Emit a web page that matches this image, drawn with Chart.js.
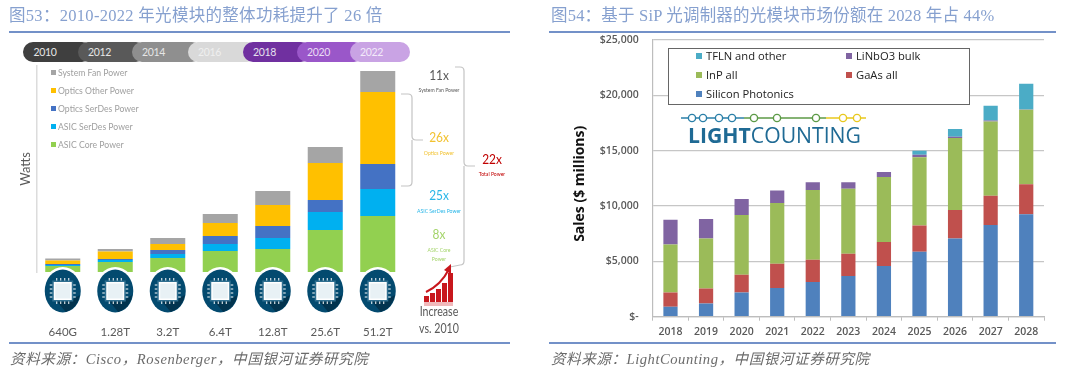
<!DOCTYPE html>
<html><head><meta charset="utf-8">
<script src="https://cdn.jsdelivr.net/npm/chart.js@4"></script>
<style>
html,body{margin:0;padding:0;background:#fff;width:1080px;height:379px;overflow:hidden}
.a{position:absolute;white-space:pre}
canvas{position:absolute}
#wrap{position:absolute;left:0;top:0;width:1080px;height:379px;filter:blur(.4px)}
.ttl{font:16.5px "Liberation Serif","Noto Sans CJK SC";color:#86a0cf;line-height:20px}
.src{font:italic 14.6px "Liberation Serif","Noto Sans CJK SC";color:#6b6b6b;line-height:18px}
.rule{position:absolute;height:2px;background:#7391c8}
.c{transform:translateX(-50%) scaleX(.85);text-align:center}
</style></head><body>
<div id="wrap">
<canvas id="left" width="540" height="379" style="left:0;top:0;width:540px;height:379px"></canvas>
<canvas id="right" width="540" height="379" style="left:540px;top:0;width:540px;height:379px"></canvas>
<svg id="ov" class="a" width="1080" height="379" style="left:0;top:0"></svg>
<div id="html"></div>
</div>
<script>
// LEFT CHART DATA
const switchCats=['640G','1.28T','3.2T','6.4T','12.8T','25.6T','51.2T'];
const asicCore=[6,10,14,21,23,42,56];
const asicSerdes=[1,2,4,7,11,18,27];
const opticsSerdes=[1,1,4,8,12,12,25];
const opticsOther=[3.5,7.5,6,13,21,37,72];
const systemFan=[2,2.5,6,9,14,16,21];
const leftSeries=['ASIC Core Power','ASIC SerDes Power','Optics SerDes Power','Optics Other Power','System Fan Power'];
const leftColors=['#92d050','#00b0f0','#4472c4','#ffc000','#a5a5a5'];
const yearLabels=['2010','2012','2014','2016','2018','2020','2022'];
const yearColors=['#3f3f3f','#595959','#8f8f8f','#d9d9d9','#7030a0','#9a57c9','#c9a3e4'];
const yearText=['#e6e6e6','#e6e6e6','#e6e6e6','#efefef','#e6e0ee','#eadcf5','#f3eafa'];
const yearStarts=[23,78,132,188,243,297,350];
// RIGHT CHART DATA
const years=['2018','2019','2020','2021','2022','2023','2024','2025','2026','2027','2028'];
const siliconPhotonics=[900,1200,2190,2600,3140,3680,4580,5870,7070,8290,9250];
const gaasAll=[1290,1345,1610,2190,2010,2010,2160,2360,2570,2640,2710];
const inpAll=[4340,4520,5390,5480,6300,5860,5890,6170,6500,6710,6730];
const linbo3Bulk=[2240,1765,1440,1130,690,600,450,240,120,90,30];
const tflnOther=[0,0,0,0,0,0,0,360,690,1330,2320];
const rightColors=['#4f81bd','#c0504d','#9bbb59','#8064a2','#4bacc6'];

Chart.defaults.animation=false;
Chart.defaults.responsive=false;

const html=document.getElementById('html');
function add(cls,text,x,y,style){const d=document.createElement('div');d.className='a '+cls;d.textContent=text;d.style.left=x+'px';d.style.top=y+'px';if(style)Object.assign(d.style,style);html.appendChild(d);return d;}

// chip icons under each bar, positioned from the category scale
const chipPlugin={id:'chips',afterDatasetsDraw(ch){
  const c=ch.ctx,xs=ch.scales.x;
  switchCats.forEach((_,i)=>{
    const x=xs.getPixelForValue(i),y=291;
    c.save();
    c.fillStyle='#fff';c.beginPath();c.ellipse(x,y-1,20,23,0,0,Math.PI*2);c.fill();
    c.fillStyle='#034a6f';c.beginPath();c.ellipse(x,y,18,21.5,0,0,Math.PI*2);c.fill();
    c.fillStyle='#02344f';c.beginPath();c.moveTo(x+9,y+9);c.lineTo(x+17,y+4);c.quadraticCurveTo(x+15,y+17,x+3,y+21);c.lineTo(x-7,y+9);c.closePath();c.fill();
    c.strokeStyle='#fff';c.lineWidth=1;
    for(let k=-6;k<=6;k+=4){
      c.beginPath();c.moveTo(x+k,y-13);c.lineTo(x+k,y+13);c.stroke();
      c.beginPath();c.moveTo(x-13,y+k);c.lineTo(x+13,y+k);c.stroke();
    }
    c.fillStyle='#2f6f90';c.fillRect(x-10.5,y-10.5,21,21);
    c.fillStyle='#fff';c.fillRect(x-9,y-9,18,18);
    c.fillStyle='#e8f1f5';c.fillRect(x-7.5,y-7.5,15,15);
    c.restore();
  });
}};

new Chart(document.getElementById('left'),{
  type:'bar',
  data:{labels:switchCats,datasets:[asicCore,asicSerdes,opticsSerdes,opticsOther,systemFan].map((d,i)=>({label:leftSeries[i],data:d,backgroundColor:leftColors[i],barPercentage:.667,categoryPercentage:1}))},
  options:{
    layout:{padding:{left:18,right:136,top:66,bottom:0}},
    plugins:{legend:{display:false},tooltip:{enabled:false}},
    scales:{
      x:{stacked:true,grid:{display:false},border:{display:false},
        ticks:{padding:45,color:'#595959',font:{family:'Lato',size:11.5},maxRotation:0},
        afterFit(s){s.height=107}},
      y:{stacked:true,min:0,max:206,
        grid:{display:false},border:{display:true,color:'#dcdcdc',width:1.5},
        ticks:{display:false},
        title:{display:true,text:'Watts',color:'#595959',font:{family:'Lato',size:13},padding:0},
        afterFit(s){s.width=18.5}}
    }
  },
  plugins:[chipPlugin]
});

new Chart(document.getElementById('right'),{
  type:'bar',
  data:{labels:years,datasets:[siliconPhotonics,gaasAll,inpAll,linbo3Bulk,tflnOther].map((d,i)=>({label:['Silicon Photonics','GaAs all','InP all','LiNbO3 bulk','TFLN and other'][i],data:d,backgroundColor:rightColors[i],barPercentage:.4,categoryPercentage:1}))},
  options:{
    layout:{padding:{left:32,right:36,top:40,bottom:0}},
    plugins:{legend:{display:false},tooltip:{enabled:false}},
    scales:{
      x:{stacked:true,grid:{offset:true,drawOnChartArea:false,tickLength:4,color:'#bdbdbd'},border:{color:'#bdbdbd',width:1.2},
        ticks:{padding:5,color:'#595959',font:{family:'Open Sans',size:10.5,weight:'600'},maxRotation:0},
        afterFit(s){s.height=62.3}},
      y:{stacked:true,min:0,max:25000,
        grid:{color:'#c6c6c6',lineWidth:1.3,drawTicks:false},border:{color:'#bdbdbd',width:1.2},
        ticks:{stepSize:5000,padding:14,color:'#595959',font:{family:'Open Sans',size:10.5,weight:'600'},
          callback:v=>v===0?'$-':'$'+v.toLocaleString('en-US')},
        title:{display:true,text:'Sales ($ millions)   ',color:'#111',font:{family:'Open Sans',size:14,weight:'700'},padding:0},
        afterFit(s){s.width=80.7}}
    }
  }
});

// Page titles, rules, sources
add('ttl','图53：2010-2022 年光模块的整体功耗提升了 26 倍',9,6,{letterSpacing:'.3px'});
add('ttl','图54：基于 SiP 光调制器的光模块市场份额在 2028 年占 44%',551,6,{letterSpacing:'.2px'});
[[9,501,31],[549,507,31],[9,501,342],[549,507,342]].forEach(r=>{const d=document.createElement('div');d.className='rule';d.style.cssText=`left:${r[0]}px;width:${r[1]}px;top:${r[2]}px`;html.appendChild(d);});
add('src','资料来源：Cisco，Rosenberger，中国银河证券研究院',10,350,{letterSpacing:'.55px'});
add('src','资料来源：LightCounting，中国银河证券研究院',551,350,{letterSpacing:'.52px'});

// Year pills
const ends=[...yearStarts.slice(1).map(v=>v+14),410];
yearLabels.forEach((y,i)=>{
  add('',y,yearStarts[i],42,{width:(ends[i]-yearStarts[i])+'px',height:'20px',borderRadius:'10px',background:yearColors[i],color:yearText[i],font:'10.5px "Lato"',letterSpacing:'-.35px',lineHeight:'20px',zIndex:i,boxSizing:'border-box',paddingLeft:i?'10px':'10.5px'});
});

// Left legend
[...leftSeries].reverse().forEach((s,i)=>{
  const y=72+i*18,col=[...leftColors].reverse()[i];
  add('','',51,y-2.5,{width:'5px',height:'5px',background:col});
  add('',s,58,y-7,{font:'10.2px "Lato"',color:'#a0a0a0',lineHeight:'14px',transform:'scaleX(.85)',transformOrigin:'0 50%'});
});

// Left annotations
[['11x',439,66,'#595959',14],['System Fan Power',439,85,'#595959',6],
 ['26x',439,128,'#f2c230',14],['Optics Power',439,148,'#f2c230',6],
 ['22x',492,150,'#c00000',14],['Total Power',492,169,'#c00000',6],
 ['25x',439,186,'#29b6e8',14],['ASIC SerDes Power',439,206,'#29b6e8',6],
 ['8x',439,225,'#a4d46a',14],['ASIC Core',439,245,'#a4d46a',6],['Power',439,254,'#a4d46a',6],
 ['Increase',439,304,'#595959',12.5],['vs. 2010',439,321,'#595959',12.5]
].forEach(t=>add('c',t[0],t[1],t[2],{color:t[3],font:t[4]+'px "Lato"',lineHeight:(t[4]+4)+'px'}));

// Brackets, trend icon and logo
const bars=[[424,296],[430,293],[436,289],[442,283],[448,273]];
const dots=[[692,'#2a7fa8'],[703,'#2a7fa8'],[719,'#2a7fa8'],[732,'#2a7fa8'],[754,'#5c9a46'],[777,'#5c9a46'],[816,'#5c9a46'],[843,'#e8c81e'],[857,'#e8c81e']];
let s=`<g fill="none" stroke="#c4c4c4" stroke-width="1.2">
<path d="M455 67H460Q464 67 464 71V162Q464 166 468 166H475M464 166V261Q464 265 460 265L450 267"/>
<path d="M401 94H408Q412 94 412 98V136Q412 140 416 140H423M412 140V182Q412 186 408 186H401"/></g>`;
bars.forEach(b=>{s+=`<rect x="${b[0]}" y="${b[1]}" width="5" height="${302-b[1]}" fill="#c8171d"/>`;});
s+=`<rect x="424" y="302" width="29" height="4" fill="#f0b9bb"/>`;
s+=`<path d="M426 292Q441 285 449 269" fill="none" stroke="#c8171d" stroke-width="2"/><path d="M444 270L451 264L451 274Z" fill="#c8171d"/>`;
// logo
s+=`<path d="M681 118H744" stroke="#2a7fa8" stroke-width="1.3"/><path d="M744 118H826" stroke="#5c9a46" stroke-width="1.3"/><path d="M826 118H866" stroke="#e8c81e" stroke-width="1.3"/>`;
dots.forEach(d=>{s+=`<circle cx="${d[0]}" cy="118" r="3.6" fill="#fff" stroke="${d[1]}" stroke-width="1.4"/>`;});
s+=`<text x="688" y="143" textLength="173" lengthAdjust="spacingAndGlyphs" font-family="Open Sans" font-size="21" fill="#1f6a94"><tspan font-weight="700">LIGHT</tspan><tspan font-weight="400">COUNTING</tspan></text>`;
document.getElementById('ov').innerHTML=s;

// Right legend box
add('','',668,48,{width:'300px',height:'55px',background:'#fff',border:'1px solid #666'});
[['TFLN and other',696,56,4],['LiNbO3 bulk',846,56,3],['InP all',696,75,2],['GaAs all',846,75,1],['Silicon Photonics',696,94,0]].forEach(l=>{
  add('','',l[1],l[2]-3,{width:'6px',height:'6px',background:rightColors[l[3]]});
  add('',l[0],l[1]+10,l[2]-8,{font:'11.2px "Open Sans"',color:'#222',lineHeight:'16px'});
});
</script>
</body></html>
